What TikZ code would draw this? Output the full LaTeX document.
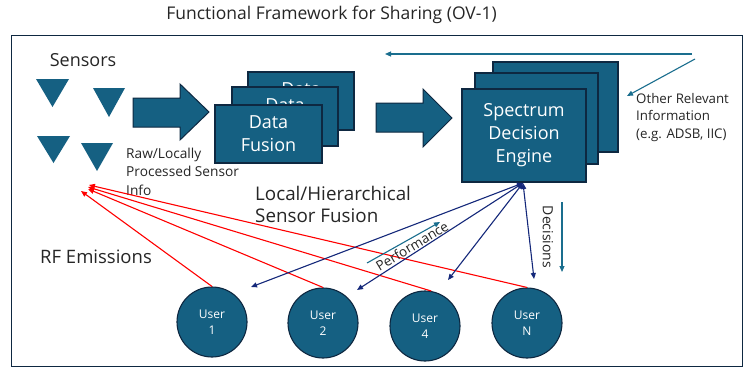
\documentclass[tikz,border=0pt]{standalone}
\usepackage{fontspec}
\setmainfont{Open Sans}
\usetikzlibrary{arrows.meta}
\definecolor{tealf}{HTML}{156082}
\definecolor{dkb}{HTML}{0E2841}
\definecolor{navy}{HTML}{14287A}
\definecolor{tealline}{HTML}{1A6E8E}
\definecolor{redl}{HTML}{FF0000}
\definecolor{txt}{HTML}{262626}
\tikzset{
  fs/.style 2 args={font=\fontsize{#1}{#2}\selectfont},
  boxstyle/.style={draw=dkb, fill=tealf, line width=1.3pt, text=white, align=center, inner sep=0pt},
  userstyle/.style={circle, draw=dkb, fill=tealf, line width=1.1pt, text=white, align=center, minimum size=70pt, inner sep=0pt, fs={12}{16}},
  lbl/.style={text=txt, inner sep=0pt},
  boxlbl/.style={text=white, inner sep=0pt, align=center},
  bigarrow/.style={fill=tealf, draw=dkb, line width=1pt},
  redarrow/.style={draw=redl, line width=1.1pt, -{Triangle[length=6pt,width=5pt]}},
  navyarrow/.style={draw=navy, line width=1.1pt, {Triangle[length=6pt,width=5pt]}-{Triangle[length=6pt,width=5pt]}},
  thinteal/.style={draw=tealline, line width=1.1pt, -{Triangle[length=6pt,width=5pt]}},
}
\begin{document}
\begin{tikzpicture}[x=1pt,y=-1pt]
\useasboundingbox (0,0) rectangle (746,369);
\fill[white] (0,0) rectangle (746,369);
% frame
\draw[draw=dkb, line width=1.8pt] (11.5,35.5) rectangle (742.5,366.5);
% title
\node[lbl, fs={17.5}{20}] (title) at (331.5,15) {Functional Framework for Sharing (OV-1)};
% sensors
\node[lbl, fs={18}{20}] (sensorslbl) at (83,60) {Sensors};
\fill[tealf] (36,79) -- (69,79) -- (52.5,107) -- cycle;
\fill[tealf] (93,88) -- (125,88) -- (109,117) -- cycle;
\fill[tealf] (37,136) -- (70,136) -- (53.5,163) -- cycle;
\fill[tealf] (81,143) -- (113,143) -- (97,171) -- cycle;
% big arrows
\filldraw[bigarrow] (133,98) -- (180,98) -- (180,84) -- (209,112) -- (180,140) -- (180,127) -- (133,127) -- cycle;
\filldraw[bigarrow] (376,103) -- (423,103) -- (423,89) -- (452,118) -- (423,147) -- (423,132) -- (376,132) -- cycle;
% data fusion boxes
\node[boxstyle, minimum width=106pt, minimum height=58pt] (df3) at (301,101) {};
\node[boxlbl, fs={18}{23}] (df3t) at (301,89.5) {Data};
\node[boxstyle, minimum width=106pt, minimum height=59pt] (df2) at (285,116.5) {};
\node[boxlbl, fs={18}{23}] (df2t) at (285,105) {Data};
\node[boxstyle, minimum width=107pt, minimum height=58pt, fs={18}{23}] (df1) at (268.5,134) {Data\\Fusion};
% engine boxes
\node[boxstyle, minimum width=125pt, minimum height=90pt] (se3) at (555.5,107) {};
\node[boxstyle, minimum width=123pt, minimum height=91pt] (se2) at (536.5,118.5) {};
\node[boxstyle, minimum width=124pt, minimum height=93pt, fs={18}{23}] (se1) at (524,135.5) {Spectrum\\Decision\\Engine};
% labels
\node[lbl, fs={13.7}{18.5}, anchor=west, align=left] (rawlbl) at (126,171.5) {Raw/Locally\\Processed Sensor\\Info};
\node[lbl, fs={13.3}{17.5}, anchor=west, align=left] (otherlbl) at (636,117.5) {Other Relevant\\Information\\(e.g. ADSB, IIC)};
\node[lbl, fs={18.8}{22}, anchor=west, align=left] (locallbl) at (255,204) {Local/Hierarchical\\Sensor Fusion};
\node[lbl, fs={18.5}{20}, anchor=west] (rflbl) at (40,257) {RF Emissions};
% other info arrows
\coordinate (topR) at (692,54);
\coordinate (topL) at (385,54);
\coordinate (diagS) at (695,59);
\coordinate (diagE) at (627,96);
\draw[thinteal] (topR) -- (topL);
\draw[thinteal] (diagS) -- (diagE);
% users
\node[userstyle] (u1) at (212,322) {User\\1};
\node[userstyle] (u2) at (323,323) {User\\2};
\node[userstyle] (u4) at (425,326) {User\\4};
\node[userstyle] (uN) at (527,323) {User\\N};
% red arrows
\coordinate (r1) at (81,191);
\coordinate (r2) at (88,189);
\coordinate (r4) at (88,187);
\coordinate (rN) at (89,185);
\draw[redarrow] (u1.north) -- (r1);
\draw[redarrow] (u2.north) -- (r2);
\draw[redarrow] (u4.80) -- (r4);
\draw[redarrow] (uN.north) -- (rN);
% navy arrows
\coordinate (eb) at (523,183);
\coordinate (n1) at (251,287);
\coordinate (n2) at (357,290);
\coordinate (n4) at (448,280);
\coordinate (nN) at (534,279);
\draw[navyarrow] (eb) -- (n1);
\draw[navyarrow] (eb) -- (n2);
\draw[navyarrow] (eb) -- (n4);
\draw[navyarrow] (eb) -- (nN);
% performance
\coordinate (pS) at (367,263);
\coordinate (pE) at (440,222);
\draw[thinteal] (pS) -- (pE);
\node[lbl, fs={13.5}{15}, rotate=31] (perflbl) at (412,246) {Performance};
% decisions
\coordinate (dS) at (562,202);
\coordinate (dE) at (562,272);
\draw[thinteal] (dS) -- (dE);
\node[lbl, fs={14}{15}, rotate=-90] (declbl) at (548,237) {Decisions};
\end{tikzpicture}
\end{document}
